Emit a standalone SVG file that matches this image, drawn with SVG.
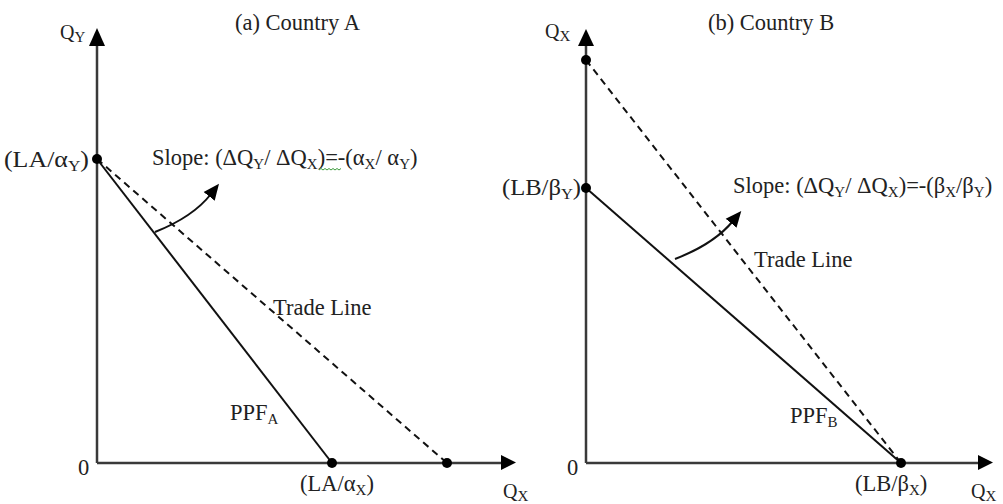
<svg xmlns="http://www.w3.org/2000/svg" width="1003" height="504" viewBox="0 0 1003 504">
<style>
text{font-family:"Liberation Serif","Times New Roman",serif;font-size:22.5px;fill:#222}
.s{font-size:15px}
.ax{stroke:#3a3a3a;stroke-width:2.5;fill:none}
.ppf{stroke:#111;stroke-width:2;fill:none}
.tr{stroke:#111;stroke-width:2;stroke-dasharray:7 5;fill:none}
.cur{stroke:#111;stroke-width:2;fill:none}
.dot{fill:#000}
</style>
<defs>
<marker id="cah" markerWidth="16" markerHeight="16" refX="3" refY="8" orient="auto" markerUnits="userSpaceOnUse" viewBox="0 0 16 16">
<path d="M0,1 L16,8 L0,15 z" fill="#000"/>
</marker>
</defs>
<rect width="1003" height="504" fill="#fff"/>

<g id="panelA-axes">
<path class="ax" d="M97,463 V45"/>
<path d="M89,46 L97,28 L105,46 z" fill="#000"/>
<path class="ax" d="M97,463 H501"/>
<path d="M501,455 L516,462.5 L501,470 z" fill="#000"/>
<text x="60" y="39" style="font-size:20px">Q<tspan class="s" dy="3">Y</tspan></text>
<text x="503" y="498" style="font-size:20px">Q<tspan class="s" dy="3">X</tspan></text>
<text x="78" y="475">0</text>
<text x="235" y="30">(a) Country A</text>
</g>

<g id="connectors">
<path class="tr" d="M97,159 L447,463"/>
<path class="ppf" d="M97,159 L332,463"/>
<path class="cur" d="M155,232 Q193,217 211,194" marker-end="url(#cah)"/>
<path class="tr" d="M586,60 L901,463"/>
<path class="ppf" d="M586,188 L901,463"/>
<path class="cur" d="M675,259 Q714,244 733,221" marker-end="url(#cah)"/>
</g>

<g id="nodeA-LAaY">
<circle class="dot" cx="97" cy="159" r="5"/>
<text x="4" y="167" textLength="85" lengthAdjust="spacingAndGlyphs">(LA/α<tspan class="s" dy="4">Y</tspan><tspan dy="-4">)</tspan></text>
</g>
<g id="nodeA-LAaX">
<circle class="dot" cx="332" cy="463" r="5"/>
<text x="300" y="491">(LA/α<tspan class="s" dy="4">X</tspan><tspan dy="-4">)</tspan></text>
</g>
<g id="nodeA-trade">
<circle class="dot" cx="447" cy="463" r="5"/>
</g>
<g id="labelA-slope">
<text x="152" y="165">Slope: (ΔQ<tspan class="s" dy="4">Y</tspan><tspan dy="-4">/ ΔQ</tspan><tspan class="s" dy="4">X</tspan><tspan dy="-4">)=-(α</tspan><tspan class="s" dy="4">X</tspan><tspan dy="-4">/ α</tspan><tspan class="s" dy="4">Y</tspan><tspan dy="-4">)</tspan></text>
<path d="M319,170 l2,-1.5 l2,1.5 l2,-1.5 l2,1.5 l2,-1.5 l2,1.5 l2,-1.5 l2,1.5 l2,-1.5 l2,1.5 l2,-1.5" stroke="#3a9a3a" stroke-width="1" fill="none"/>
</g>
<g id="labelA-trade"><text x="273" y="315">Trade Line</text></g>
<g id="labelA-ppf"><text x="230" y="420">PPF<tspan class="s" dy="4">A</tspan></text></g>

<g id="panelB-axes">
<path class="ax" d="M586,463 V45"/>
<path d="M578,46 L586,29 L594,46 z" fill="#000"/>
<path class="ax" d="M586,463 H978"/>
<path d="M978,455 L993,462.5 L978,470 z" fill="#000"/>
<text x="545" y="38" style="font-size:20px">Q<tspan class="s" dy="3">X</tspan></text>
<text x="971" y="498" style="font-size:20px">Q<tspan class="s" dy="3">X</tspan></text>
<text x="567" y="475">0</text>
<text x="708" y="30">(b) Country B</text>
</g>
<g id="nodeB-top">
<circle class="dot" cx="586" cy="60" r="5"/>
</g>
<g id="nodeB-LBbY">
<circle class="dot" cx="586" cy="188" r="5"/>
<text x="502" y="195" textLength="79" lengthAdjust="spacingAndGlyphs">(LB/β<tspan class="s" dy="4">Y</tspan><tspan dy="-4">)</tspan></text>
</g>
<g id="nodeB-LBbX">
<circle class="dot" cx="901" cy="463" r="5"/>
<text x="855" y="491">(LB/β<tspan class="s" dy="4">X</tspan><tspan dy="-4">)</tspan></text>
</g>
<g id="labelB-slope">
<text x="733" y="193">Slope: (ΔQ<tspan class="s" dy="4">Y</tspan><tspan dy="-4">/ ΔQ</tspan><tspan class="s" dy="4">X</tspan><tspan dy="-4">)=-(β</tspan><tspan class="s" dy="4">X</tspan><tspan dy="-4">/β</tspan><tspan class="s" dy="4">Y</tspan><tspan dy="-4">)</tspan></text>
</g>
<g id="labelB-trade"><text x="754" y="267">Trade Line</text></g>
<g id="labelB-ppf"><text x="790" y="423">PPF<tspan class="s" dy="4">B</tspan></text></g>
</svg>
